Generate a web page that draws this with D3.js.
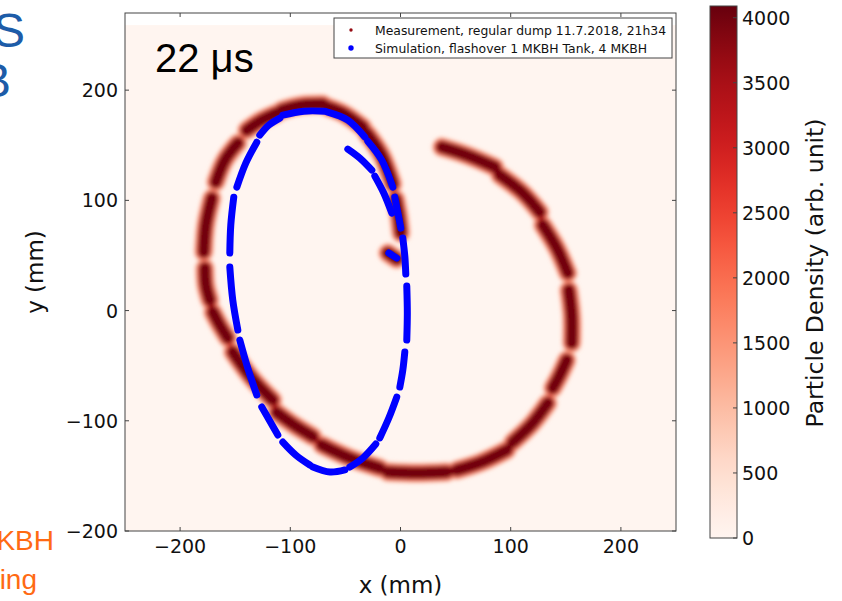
<!DOCTYPE html>
<html><head><meta charset="utf-8">
<script src="https://cdn.jsdelivr.net/npm/d3@7"></script>
<style>
html,body{margin:0;padding:0;background:#fff;}
svg{display:block;}
text{font-family:"DejaVu Sans",sans-serif;}
</style></head>
<body>
<svg id="c" width="842" height="601"></svg>
<script>
// ---------------- data ----------------
const xTicks = [-200, -100, 0, 100, 200];
const yTicks = [-200, -100, 0, 100, 200];
const cbTicks = [0, 500, 1000, 1500, 2000, 2500, 3000, 3500, 4000];
const xDomain = [-250, 250];
const yDomain = [-200, 270];
const cbDomain = [0, 4090];
const heatExtentX = [-250, 250];
const heatExtentY = [-200, 259];
const legendLabels = ["Measurement, regular dump 11.7.2018, 21h34", "Simulation, flashover 1 MKBH Tank, 4 MKBH"];
const timeLabel = "22 μs";
// measurement: particle density streaks (x mm, y mm); density levels from edge to core
const measurementHalo = [1300, 2700, 4000];
const measurement = [
  [[37.5,148.3],[60.2,141.0],[85.6,130.2]],
  [[90.1,122.9],[110.1,107.5],[126.4,89.3]],
  [[129.1,77.6],[141.8,56.7],[151.8,34.0]],
  [[152.7,18.6],[155.4,-5.0],[155.4,-29.5]],
  [[150.9,-44.9],[144.6,-58.5],[138.2,-70.3]],
  [[133.7,-83.9],[119.2,-102.9],[101.9,-119.3]],
  [[96.5,-126.5],[73.8,-137.4],[51.1,-144.7]],
  [[42.0,-146.5],[14.8,-147.4],[-11.5,-146.5]],
  [[-18.8,-142.9],[-46.0,-133.8],[-71.4,-122.0]],
  [[-79.6,-114.2],[-95.9,-104.3],[-112.3,-92.5]],
  [[-115.9,-81.2],[-135.0,-61.2],[-152.2,-37.6]],
  [[-156.8,-24.9],[-164.0,-13.2],[-170.3,-1.4]],
  [[-173.0,9.5],[-176.6,23.1],[-177.5,38.5]],
  [[-178.5,53.1],[-176.6,77.6],[-171.2,102.0]],
  [[-167.6,116.6],[-159.4,136.5],[-147.6,151.9]],
  [[-139.5,163.7],[-125.9,172.8],[-112.3,179.1]],
  [[-107.7,181.9],[-89.5,186.4],[-70.5,187.3]],
  [[-66.0,184.6],[-50.5,178.2],[-34.2,166.4]],
  [[-30.6,161.0],[-17.0,141.0],[-7.0,114.7]],
  [[-4.3,101.1],[-1.5,85.7],[0.3,70.3]],
  [[-11.5,52.2],[-7.5,49.5],[-3.4,46.7]]
];
// simulation: dashes of tracked particles (x mm, y mm)
const simulation = [
  [[-47.8,146.5],[-36.9,138.3],[-26.0,127.4]],
  [[-23.3,122.0],[-15.2,106.6],[-7.9,88.4]],
  [[-106.8,177.3],[-87.7,180.9],[-68.7,180.9]],
  [[-66.0,180.0],[-47.8,172.8],[-32.4,157.4]],
  [[-29.7,153.7],[-17.0,136.5],[-7.0,112.0]],
  [[-5.2,102.9],[-2.5,89.3],[0.3,74.8]],
  [[2.1,65.8],[3.9,49.4],[4.8,33.1]],
  [[5.7,22.2],[6.2,-2.3],[5.7,-26.8]],
  [[3.9,-37.6],[2.1,-54.0],[-0.6,-69.4]],
  [[-3.4,-78.5],[-10.6,-97.5],[-18.8,-115.6]],
  [[-22.4,-121.1],[-34.2,-133.8],[-46.0,-141.9]],
  [[-50.5,-144.6],[-64.0,-146.5],[-79.5,-141.9]],
  [[-82.3,-140.1],[-95.0,-131.1],[-106.8,-119.3]],
  [[-111.3,-112.9],[-118.6,-100.2],[-125.9,-87.5]],
  [[-130.4,-76.6],[-138.6,-52.2],[-145.8,-26.8]],
  [[-147.6,-17.7],[-152.2,9.5],[-154.9,39.5]],
  [[-154.9,52.2],[-154.0,77.6],[-151.3,102.9]],
  [[-148.5,112.0],[-140.4,133.8],[-130.4,152.8]],
  [[-127.7,159.2],[-119.5,168.3],[-109.5,174.6]],
  [[-10.6,52.2],[-7.0,49.9],[-3.4,47.6]]
];

// ---------------- layout ----------------
const svg = d3.select("#c");
const P = {l:125, r:676, t:13, b:531};
const x = d3.scaleLinear().domain(xDomain).range([P.l, P.r]);
const y = d3.scaleLinear().domain(yDomain).range([P.b, P.t]);
const color = d3.scaleSequential(d3.interpolateReds).domain(cbDomain);

const defs = svg.append("defs");
defs.append("filter").attr("id","blur").attr("x","-20%").attr("y","-20%").attr("width","140%").attr("height","140%")
  .append("feGaussianBlur").attr("stdDeviation", 1.9);
defs.append("clipPath").attr("id","clip").append("rect")
  .attr("x",P.l).attr("y",P.t).attr("width",P.r-P.l).attr("height",P.b-P.t);

// slide fragments at left edge (cut off in the original too)
const slideFont = "'Liberation Sans',Arial,sans-serif";
svg.append("text").attr("x",25).attr("y",47).attr("text-anchor","end")
  .style("font-family",slideFont).style("font-size","48px").attr("fill","#1d5ca8").text("S");
svg.append("text").attr("x",11).attr("y",97).attr("text-anchor","end")
  .style("font-family",slideFont).style("font-size","48px").attr("fill","#1d5ca8").text("B");
svg.append("text").attr("x",54).attr("y",550).attr("text-anchor","end")
  .style("font-family",slideFont).style("font-size","28px").attr("fill","#ff6a13").text("KBH");
svg.append("text").attr("x",37).attr("y",589).attr("text-anchor","end")
  .style("font-family",slideFont).style("font-size","28px").attr("fill","#ff6a13").text("ing");

// heatmap background
const plot = svg.append("g").attr("clip-path","url(#clip)");
plot.append("rect")
  .attr("x", x(heatExtentX[0])).attr("width", x(heatExtentX[1]) - x(heatExtentX[0]))
  .attr("y", y(heatExtentY[1])).attr("height", y(heatExtentY[0]) - y(heatExtentY[1]))
  .attr("fill", color(0));

const line = d3.line().x(d=>x(d[0])).y(d=>y(d[1])).curve(d3.curveCatmullRom);

// measurement streaks
const mg = plot.append("g").attr("filter","url(#blur)");
const widths = [19, 15, 12];
measurementHalo.forEach((v,i)=>{
  mg.append("g").selectAll("path").data(measurement).join("path")
    .attr("d", line).attr("fill","none")
    .attr("stroke", color(v)).attr("stroke-width", widths[i]).attr("stroke-linecap","round");
});

// simulation dashes
plot.append("g").selectAll("path").data(simulation).join("path")
  .attr("d", line).attr("fill","none").attr("stroke","#0000ff")
  .attr("stroke-width", 7).attr("stroke-linecap","round");

// frame
svg.append("rect").attr("x",P.l).attr("y",P.t).attr("width",P.r-P.l).attr("height",P.b-P.t)
  .attr("fill","none").attr("stroke","#444").attr("stroke-width",1);

// axes (ticks inward)
const ax = svg.append("g");
const fmt = t => String(t).replace("-","\u2212");
xTicks.forEach(t=>{
  ax.append("line").attr("x1",x(t)).attr("x2",x(t)).attr("y1",P.b).attr("y2",P.b-4).attr("stroke","#444");
  ax.append("line").attr("x1",x(t)).attr("x2",x(t)).attr("y1",P.t).attr("y2",P.t+4).attr("stroke","#444");
  ax.append("text").attr("x",x(t)).attr("y",553).attr("text-anchor","middle")
    .style("font-size","19px").attr("fill","#111").text(fmt(t));
});
yTicks.forEach(t=>{
  ax.append("line").attr("x1",P.l).attr("x2",P.l+4).attr("y1",y(t)).attr("y2",y(t)).attr("stroke","#444");
  ax.append("line").attr("x1",P.r).attr("x2",P.r-4).attr("y1",y(t)).attr("y2",y(t)).attr("stroke","#444");
  ax.append("text").attr("x",118).attr("y",y(t)+7).attr("text-anchor","end")
    .style("font-size","19px").attr("fill","#111").text(fmt(t));
});
svg.append("text").attr("x",(P.l+P.r)/2).attr("y",593).attr("text-anchor","middle")
  .style("font-size","23px").attr("fill","#111").text("x (mm)");
svg.append("text").attr("transform","translate(43,272) rotate(-90)").attr("text-anchor","middle")
  .style("font-size","23px").attr("fill","#111").text("y (mm)");

// time label
svg.append("text").attr("x",155).attr("y",72)
  .style("font-family",slideFont).style("font-size","40px").attr("fill","#000").text(timeLabel);

// legend
const lg = svg.append("g");
lg.append("rect").attr("x",334).attr("y",18).attr("width",338).attr("height",40)
  .attr("fill","#fff").attr("stroke","#444").attr("stroke-width",1);
const legendColors = [color(3700), "#0000ff"];
const legendR = [1.7, 2.7];
legendLabels.forEach((l,i)=>{
  lg.append("circle").attr("cx",351).attr("cy",30+i*18).attr("r",legendR[i]).attr("fill",legendColors[i]);
  lg.append("text").attr("x",375).attr("y",34.5+i*18).style("font-size","12.4px").attr("fill","#111").text(l);
});

// colorbar
const CB = {x:710, w:27, t:6, b:538};
const cy = d3.scaleLinear().domain(cbDomain).range([CB.b, CB.t]);
const grad = defs.append("linearGradient").attr("id","cbg").attr("x1",0).attr("x2",0).attr("y1",1).attr("y2",0);
d3.range(0,1.0001,0.05).forEach(f=>{
  grad.append("stop").attr("offset",f).attr("stop-color",color(cbDomain[0]+f*(cbDomain[1]-cbDomain[0])));
});
svg.append("rect").attr("x",CB.x).attr("y",CB.t).attr("width",CB.w).attr("height",CB.b-CB.t)
  .attr("fill","url(#cbg)").attr("stroke","#444").attr("stroke-width",1);
cbTicks.forEach(t=>{
  svg.append("line").attr("x1",CB.x+CB.w).attr("x2",CB.x+CB.w-4).attr("y1",cy(t)).attr("y2",cy(t)).attr("stroke","#444");
  svg.append("text").attr("x",742).attr("y",cy(t)+7).style("font-size","19px").attr("fill","#111").text(t);
});
svg.append("text").attr("transform","translate(823,273) rotate(-90)").attr("text-anchor","middle")
  .style("font-size","23.5px").attr("fill","#111").text("Particle Density (arb. unit)");
</script>
</body></html>
